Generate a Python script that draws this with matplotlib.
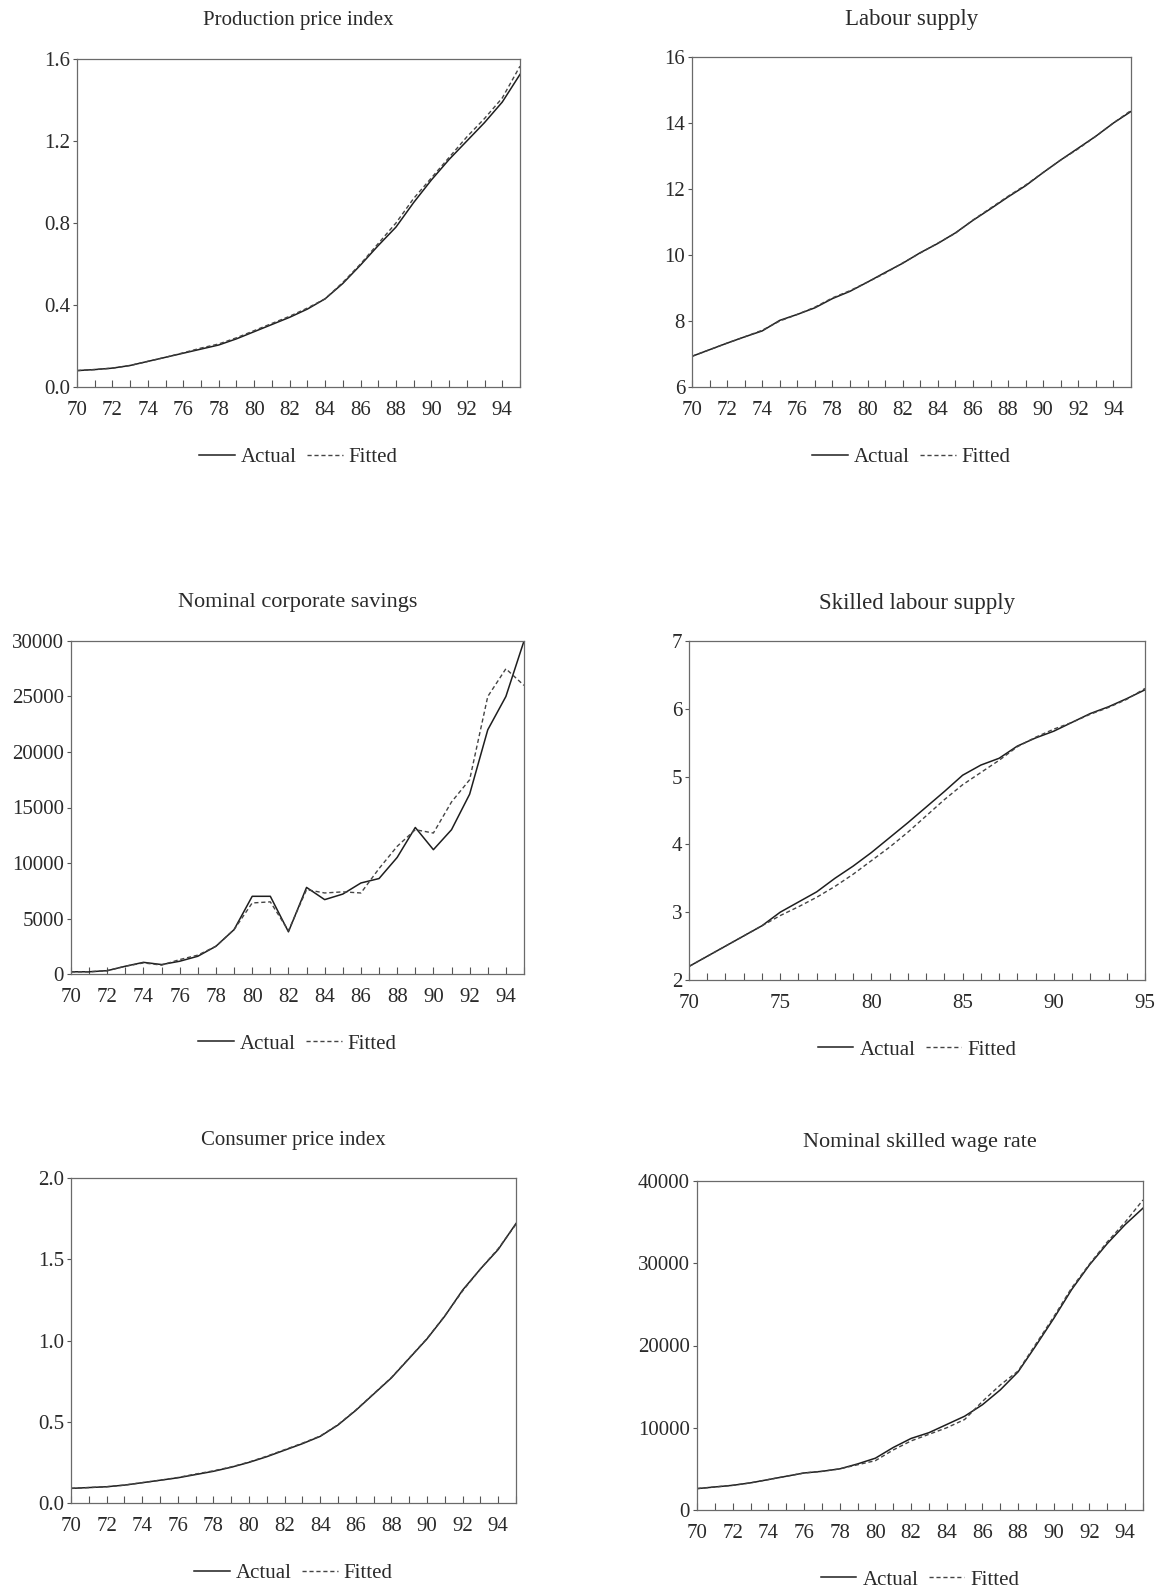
import numpy as np
import matplotlib
matplotlib.use("Agg")
import matplotlib.pyplot as plt
from matplotlib.ticker import FixedLocator, MultipleLocator, FormatStrFormatter

# years 1970-1995
years = np.arange(1970, 1996)

# Production price index
ppi_actual = [0.080, 0.085, 0.092, 0.105, 0.125, 0.145, 0.165, 0.185, 0.205, 0.235,
              0.270, 0.305, 0.340, 0.380, 0.430, 0.505, 0.595, 0.690, 0.780, 0.900,
              1.010, 1.110, 1.200, 1.290, 1.390, 1.525]
ppi_fitted = [0.080, 0.085, 0.092, 0.105, 0.125, 0.145, 0.167, 0.190, 0.210, 0.240,
              0.275, 0.310, 0.345, 0.385, 0.430, 0.510, 0.600, 0.700, 0.800, 0.920,
              1.020, 1.120, 1.220, 1.310, 1.410, 1.565]

# Labour supply
lab_actual = [6.93, 7.13, 7.33, 7.52, 7.70, 8.02, 8.20, 8.40, 8.68, 8.90,
              9.18, 9.47, 9.75, 10.07, 10.35, 10.67, 11.05, 11.40, 11.76, 12.10,
              12.50, 12.88, 13.24, 13.60, 14.00, 14.35]
lab_fitted = [6.93, 7.13, 7.33, 7.52, 7.72, 8.00, 8.20, 8.42, 8.70, 8.92,
              9.18, 9.45, 9.76, 10.06, 10.36, 10.66, 11.06, 11.42, 11.78, 12.12,
              12.50, 12.88, 13.22, 13.60, 14.00, 14.38]

# Nominal corporate savings
sav_actual = [200, 200, 300, 700, 1050, 850, 1150, 1600, 2500, 4000,
              7000, 7000, 3800, 7800, 6700, 7200, 8200, 8600, 10500, 13200,
              11200, 13000, 16200, 22000, 25000, 30000]
sav_fitted = [200, 200, 300, 700, 1000, 800, 1300, 1700, 2500, 4000,
              6400, 6500, 3900, 7600, 7300, 7400, 7300, 9500, 11500, 13000,
              12700, 15500, 17500, 25000, 27500, 26000]

# Skilled labour supply
skl_actual = [2.20, 2.35, 2.50, 2.65, 2.80, 3.00, 3.15, 3.30, 3.50, 3.68,
              3.88, 4.10, 4.32, 4.55, 4.78, 5.02, 5.17, 5.27, 5.45, 5.57,
              5.67, 5.80, 5.93, 6.03, 6.15, 6.28]
skl_fitted = [2.20, 2.35, 2.50, 2.65, 2.80, 2.95, 3.08, 3.22, 3.38, 3.56,
              3.76, 3.96, 4.18, 4.42, 4.66, 4.88, 5.06, 5.24, 5.44, 5.58,
              5.70, 5.80, 5.92, 6.02, 6.14, 6.30]

# Consumer price index
cpi_actual = [0.090, 0.095, 0.100, 0.110, 0.125, 0.140, 0.155, 0.175, 0.195, 0.220,
              0.250, 0.285, 0.325, 0.365, 0.410, 0.480, 0.570, 0.670, 0.770, 0.890,
              1.010, 1.150, 1.310, 1.440, 1.560, 1.720]
cpi_fitted = [0.090, 0.095, 0.100, 0.110, 0.125, 0.140, 0.157, 0.178, 0.198, 0.222,
              0.252, 0.288, 0.328, 0.368, 0.412, 0.482, 0.572, 0.672, 0.772, 0.892,
              1.012, 1.152, 1.305, 1.440, 1.565, 1.715]

# Nominal skilled wage rate
wage_actual = [2600, 2800, 3000, 3300, 3700, 4100, 4500, 4700, 5000, 5600,
               6300, 7600, 8700, 9400, 10400, 11400, 12800, 14600, 16800, 20000,
               23300, 26800, 29800, 32400, 34700, 36700]
wage_fitted = [2600, 2800, 3000, 3300, 3700, 4100, 4500, 4700, 5000, 5500,
               6000, 7300, 8400, 9200, 10000, 11000, 13200, 15200, 16900, 20200,
               23500, 27000, 29900, 32600, 35000, 37700]

titles = ["Production price index", "Labour supply", "Nominal corporate savings",
          "Skilled labour supply", "Consumer price index", "Nominal skilled wage rate"]
series = [(ppi_actual, ppi_fitted), (lab_actual, lab_fitted), (sav_actual, sav_fitted),
          (skl_actual, skl_fitted), (cpi_actual, cpi_fitted), (wage_actual, wage_fitted)]
yticks = [[0.0, 0.4, 0.8, 1.2, 1.6], [6, 8, 10, 12, 14, 16],
          [0, 5000, 10000, 15000, 20000, 25000, 30000], [2, 3, 4, 5, 6, 7],
          [0.0, 0.5, 1.0, 1.5, 2.0], [0, 10000, 20000, 30000, 40000]]
yfmt = ['%.1f', '%d', '%d', '%d', '%.1f', '%d']
xstep = [2, 2, 2, 5, 2, 2]

# axes boxes in pixels: left, top, right, bottom
boxes = [(77, 59, 520, 387), (692, 57, 1131, 387),
         (71, 641, 524, 974), (689, 641, 1145, 980),
         (71, 1178, 516, 1503), (697, 1181, 1143, 1510)]
title_size = [15, 16.5, 16, 16.5, 15, 16]

W, H = 1161, 1591
plt.rcParams['font.family'] = ['Liberation Serif', 'DejaVu Serif']
txt = '#2a2a2a'
fig = plt.figure(figsize=(W / 100, H / 100), dpi=100)

for i in range(6):
    l, t, r, b = boxes[i]
    ax = fig.add_axes([l / W, 1 - b / H, (r - l) / W, (b - t) / H])
    actual, fitted = series[i]
    ax.plot(years, actual, color='#1e1e1e', lw=1.1, label='Actual')
    ax.plot(years, fitted, color='#444444', lw=1.0, linestyle=(0, (3, 2)), label='Fitted')
    ax.set_xlim(1970, 1995)
    ax.set_ylim(yticks[i][0], yticks[i][-1])

    if xstep[i] == 5:
        major = np.arange(1970, 1996, 5)
    else:
        major = np.arange(1970, 1995, 2)
    ax.xaxis.set_major_locator(FixedLocator(major))
    ax.set_xticklabels([f"{y % 100:02d}" for y in major])
    ax.xaxis.set_minor_locator(MultipleLocator(1))
    ax.set_yticks(yticks[i])
    ax.yaxis.set_major_formatter(FormatStrFormatter(yfmt[i]))

    ax.tick_params(axis='x', which='both', direction='in', length=5, width=0.8,
                   colors='#555555', labelcolor=txt, labelsize=15, pad=10)
    ax.tick_params(axis='y', direction='out', length=3, width=0.8,
                   colors='#555555', labelcolor=txt, labelsize=15, pad=2)
    for s in ax.spines.values():
        s.set_color('#6a6a6a')
        s.set_linewidth(0.9)

    h = b - t
    ax.text(0.5, 1 + 38 / h, titles[i], transform=ax.transAxes, ha='center',
            va='center', fontsize=title_size[i], color=txt)
    ax.legend(loc='center', bbox_to_anchor=(0.5, -70 / h), ncol=2, frameon=False,
              fontsize=15, handlelength=1.7, handletextpad=0.3, columnspacing=0.5,
              labelcolor=txt)

fig.savefig('out.png', dpi=100, facecolor='white')
